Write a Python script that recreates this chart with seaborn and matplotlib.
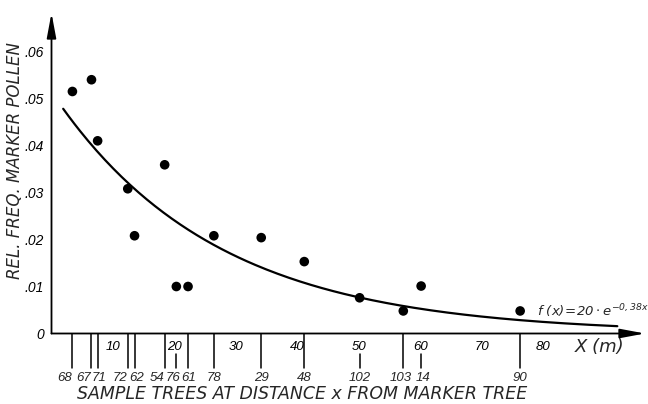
# Marker pollen frequency vs distance from marker tree

import numpy as np
import pandas as pd
import seaborn as sns
import matplotlib.pyplot as plt

# sample trees (id) and their distance x from the marker tree in m
tree_ids = ["68", "67", "71", "72", "62", "54", "76", "61", "78", "29", "48", "102", "103", "14", "90"]
distance = [3.4, 6.5, 7.5, 12.4, 13.5, 18.4, 20.3, 22.2, 26.4, 34.1, 41.1, 50.1, 57.2, 60.1, 76.2]
# relative frequency of marker pollen found on each sample tree
rel_freq = [0.0515, 0.054, 0.041, 0.0308, 0.0208, 0.0359, 0.0100, 0.0100,
            0.0208, 0.0204, 0.0153, 0.0076, 0.0048, 0.0101, 0.0048]

# fitted exponential decay, scaled to the y axis: a * exp(-b x)
fit_a = 0.0514
fit_b = 0.038
fit_from, fit_to = 1.9, 92

x_ticks = [10, 20, 30, 40, 50, 60, 70, 80]
y_ticks = [0, 0.01, 0.02, 0.03, 0.04, 0.05, 0.06]
y_tick_labels = ["0", ".01", ".02", ".03", ".04", ".05", ".06"]

# label nudges (in m) where the tree numbers crowd together
label_shift = {"68": -1.2, "67": -1.35, "71": 0.2, "72": -1.3, "62": 0.37,
               "54": -1.2, "76": -0.55, "61": 0.13, "103": -0.35, "14": 0.25}
# trees whose line starts below a distance tick label
short_lines = ["76", "102", "14"]

small = ['Liberation Sans', 'DejaVu Sans']

sns.set_style("white")
plt.rcParams['font.family'] = ['DejaVu Sans']
plt.rcParams['font.style'] = 'italic'
plt.rcParams['mathtext.fontset'] = 'dejavusans'

fig = plt.figure(figsize=(6.48, 4.04), dpi=100)
ax = fig.add_axes([51.5 / 648, 70.5 / 404, 593.5 / 648, 320.5 / 404])

df = pd.DataFrame({"tree": tree_ids, "x": distance, "freq": rel_freq})
sns.scatterplot(data=df, x="x", y="freq", color="black", s=48, edgecolor="none", ax=ax)

xs = np.linspace(fit_from, fit_to, 200)
fit = pd.DataFrame({"x": xs, "f": fit_a * np.exp(-fit_b * xs)})
sns.lineplot(data=fit, x="x", y="f", color="black", lw=1.6, ax=ax)

ax.set_xlim(0, 96.5)
ax.set_ylim(0, 0.0682)
for s in ax.spines.values():
    s.set_visible(False)

# axes drawn as arrows
ax.annotate("", xy=(0, 1), xytext=(0, 0), xycoords="axes fraction",
            arrowprops=dict(arrowstyle="-|>,head_length=1.5,head_width=0.28",
                            color="black", lw=1.3, shrinkA=0, shrinkB=0))
ax.annotate("", xy=(1, 0), xytext=(0, 0), xycoords="axes fraction",
            arrowprops=dict(arrowstyle="-|>,head_length=1.5,head_width=0.28",
                            color="black", lw=1.3, shrinkA=0, shrinkB=0))

ax.set_xticks(x_ticks)
ax.set_xticklabels([str(t) for t in x_ticks], fontsize=9.5, family=small)
ax.set_yticks(y_ticks)
ax.set_yticklabels(y_tick_labels, fontsize=10, family=small)
ax.tick_params(axis="both", direction="out", length=4, width=1, pad=1.5, colors="black")
ax.set_xlabel("")
ax.set_ylabel("")

# sample tree markers under the distance axis
for t, x in zip(tree_ids, distance):
    top = -0.0044 if t in short_lines else 0
    ax.plot([x, x], [top, -0.0074], color="black", lw=1.1, clip_on=False)
    ax.text(x + label_shift.get(t, 0), -0.0094, t, ha="center", va="center",
            fontsize=9.5, family=small)

ax.text(79.0, 0.0047, r"$\mathit{f\ (x)\!=\!20\cdot e^{-0,38x}}$", fontsize=9.5,
        ha="left", va="center", clip_on=False)

fig.text(302 / 648, 10 / 404, "SAMPLE TREES AT DISTANCE x FROM MARKER TREE",
         ha="center", va="center", fontsize=12.5)
fig.text(15 / 648, 243 / 404, "REL. FREQ. MARKER POLLEN", rotation=90,
         ha="center", va="center", fontsize=12)
fig.text(600 / 648, 57 / 404, "X (m)", ha="center", va="center", fontsize=13)

fig.savefig("out.png", dpi=100)
